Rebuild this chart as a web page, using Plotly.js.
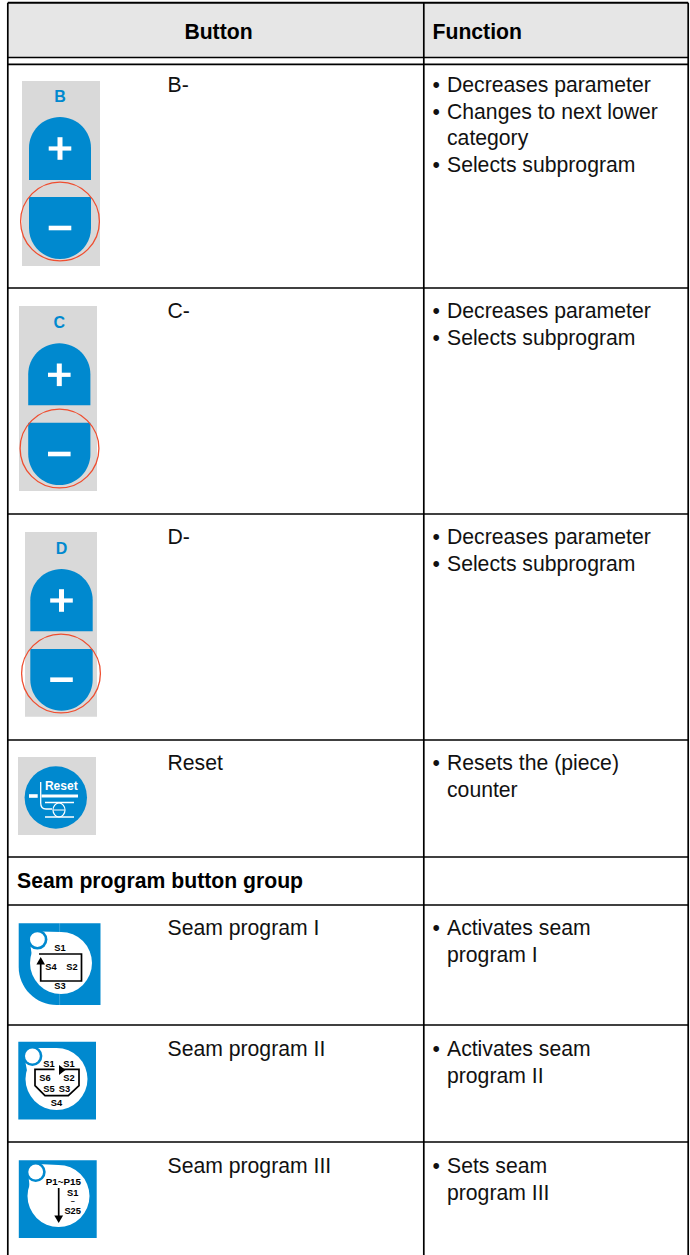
<!DOCTYPE html>
<html><head><meta charset="utf-8">
<script src="https://cdn.plot.ly/plotly-3.0.1.min.js"></script>
<style>html,body{margin:0;padding:0;background:#fff}#g{width:690px;height:1255px}</style>
</head><body><div id="g"></div>
<script>
// ---- table content ----
const headers = ["Button", "Function"];
const buttonNames = ["B-", "C-", "D-", "Reset", "Seam program I", "Seam program II", "Seam program III"];
const groupHeading = "Seam program button group";
const functionLines = [
  [["•","Decreases parameter"],["•","Changes to next lower"],["","category"],["•","Selects subprogram"]],
  [["•","Decreases parameter"],["•","Selects subprogram"]],
  [["•","Decreases parameter"],["•","Selects subprogram"]],
  [["•","Resets the (piece)"],["","counter"]],
  [["•","Activates seam"],["","program I"]],
  [["•","Activates seam"],["","program II"]],
  [["•","Sets seam"],["","program III"]]
];
const plusMinusLetters = ["B", "C", "D"];

// ---- layout measurements (page pixels) ----
const nameRowY = [86.8, 312.8, 538.8, 764.8, 929.8, 1050.8, 1167.8];
const ruleY = [57.5, 64.3, 288, 514, 740, 857, 905, 1025, 1142];
const colX = {left: 7.8, mid: 423.8, right: 688.2, name: 167.5, bullet: 432.5, fn: 447, top: 2.8, bottom: 1255};
const lineStep = 26.7;
const BLUE = "#0089cf", GREY = "#d9d9d9", RED = "#ef4e30", INK = "#000000", HEAD = "#e6e6e6";
const pmIcons = [
  {gx0:22, gx1:100, gy0:81, gy1:266, bx0:29, bx1:91, pt:117, pb:180, mt:197, mb:259, cx:60, cy:221.5, letterY:97},
  {gx0:19, gx1:97, gy0:306, gy1:491, bx0:28.2, bx1:90.4, pt:343.3, pb:405.3, mt:422.7, mb:485, cx:59.5, cy:448.5, letterY:322.5},
  {gx0:25, gx1:97, gy0:532, gy1:716.8, bx0:30.3, bx1:92.7, pt:569, pb:631.3, mt:649, mb:710.7, cx:61, cy:673.5, letterY:548.5}
];

const shapes = [];
const NONE = "rgba(0,0,0,0)";
function rect(x0,y0,x1,y1,fill){shapes.push({type:"rect",layer:"below",x0,y0,x1,y1,fillcolor:fill,line:{width:0}});}
function line(x0,y0,x1,y1,w,col){shapes.push({type:"line",layer:"below",x0,y0,x1,y1,line:{color:col||INK,width:w}});}
function circ(cx,cy,rx,ry,fill,lc,lw){shapes.push({type:"circle",layer:"below",x0:cx-rx,x1:cx+rx,y0:cy-ry,y1:cy+ry,fillcolor:fill||NONE,line:{color:lc||NONE,width:lw||0}});}
function path(d,fill,lc,lw){shapes.push({type:"path",layer:"below",path:d,fillcolor:fill||NONE,line:{color:lc||NONE,width:lw||0}});}

const iconX=[],iconY=[],iconT=[],iconS=[],iconC=[];
function label(x,y,t,s,c){iconX.push(x);iconY.push(y+1);iconT.push(t);iconS.push(s||9.3);iconC.push(c||INK);}

// header band and table rules
rect(colX.left,colX.top,colX.right,ruleY[0],HEAD);
line(colX.left,colX.top,colX.right,colX.top,2);
ruleY.forEach(y=>line(colX.left,y,colX.right,y,1.7));
[colX.left,colX.mid,colX.right].forEach(x=>line(x,colX.top,x,colX.bottom,1.7));

// +/- button icons
pmIcons.forEach((k,i)=>{
  rect(k.gx0,k.gy0,k.gx1,k.gy1,GREY);
  const r=(k.bx1-k.bx0)/2, mx=(k.bx0+k.bx1)/2, q=r*0.5523;
  path(`M${k.bx0},${k.pb} L${k.bx0},${k.pt+r} C${k.bx0},${k.pt+r-q} ${mx-q},${k.pt} ${mx},${k.pt} C${mx+q},${k.pt} ${k.bx1},${k.pt+r-q} ${k.bx1},${k.pt+r} L${k.bx1},${k.pb} Z`,BLUE);
  path(`M${k.bx0},${k.mt} L${k.bx0},${k.mb-r} C${k.bx0},${k.mb-r+q} ${mx-q},${k.mb} ${mx},${k.mb} C${mx+q},${k.mb} ${k.bx1},${k.mb-r+q} ${k.bx1},${k.mb-r} L${k.bx1},${k.mt} Z`,BLUE);
  const py=k.pt+31.5, my=k.mb-31;
  rect(mx-11.3,py-2.1,mx+11.3,py+2.1,"#fff");
  rect(mx-2.5,py-11.3,mx+2.5,py+11.3,"#fff");
  rect(mx-11.3,my-2.3,mx+11.3,my+2.3,"#fff");
  circ(k.cx,k.cy,39.4,39.4,null,RED,1.3);
  label(mx,k.letterY,plusMinusLetters[i],16,BLUE);
});

// reset icon
rect(18,757,96,835,GREY);
circ(55.8,797.5,31.2,31.2,BLUE);
line(41.5,796,78,796,3,"#fff");
line(29,796,37.7,796,3.6,"#fff");
path("M40.7,782 L40.7,803 C40.7,807 42,809 46,809 L52,809",NONE,"#fff",1.3);
line(45,802.5,74,802.5,1.5,"#fff");
line(45,817,74,817,1.5,"#fff");
circ(59,810,6,7,null,"#fff",1.2);
line(53.5,810,64.5,810,1,"#fff");
label(61.3,786,"Reset",12,"#fff");

// teardrop seam program tiles
function tile(x0,y0,x1,y1,rounded,cx,cy,hx,hy){
  if(rounded){ const R=38,Q=R*0.5523; path(`M${x0},${y0} L${x1},${y0} L${x1},${y1} L${x0+R},${y1} C${x0+R-Q},${y1} ${x0},${y1-R+Q} ${x0},${y1-R} Z`,BLUE); }
  else { rect(x0,y0,x1,y1,BLUE); }
  circ(cx,cy,31,31,"#fff");
  path(`M${hx-7},${hy+6} L${hx+2},${hy-8} L${cx},${cy-31} L${cx-28},${cy} Z`,"#fff");
  circ(hx,hy,10,10,BLUE);
  circ(hx,hy,7.4,7.4,"#fff");
}
tile(18.7,923.2,100.5,1005,true,61,963,37.4,939.6);
line(59.6,923.2,59.6,932,0.6,"rgba(255,255,255,0.35)");
line(59.6,994,59.6,1005,0.6,"rgba(255,255,255,0.35)");
path("M39,954 L81.5,954 L81.5,981 L40.7,981 L40.7,963",NONE,INK,1.7);
path("M40.7,957 L45,964.5 L36.4,964.5 Z",INK);
label(60,948,"S1");label(51,967,"S4");label(72,967,"S2");label(60,986,"S3");

tile(18.3,1041.8,96,1119.5,false,56.5,1079,32.4,1056);
path("M54.5,1069.3 L35,1069.3 L35,1085.7 L45,1095.7 L68.3,1095.7 L79,1085.7 L79,1069.3 L62,1069.3",NONE,INK,1.7);
path("M65.5,1070 L59,1065 L59,1075 Z",INK);
label(49,1064,"S1");label(69,1064,"S1");label(45,1077.3,"S6");label(69,1077.3,"S2");
label(49,1089,"S5");label(64.5,1089,"S3");label(56.5,1102.3,"S4");

tile(18.8,1160.3,96.7,1238,false,58.5,1196,35.7,1172);
line(58.7,1188,58.7,1217,1.7,INK);
path("M58.7,1223 L54.3,1215.5 L63.1,1215.5 Z",INK);
label(63.3,1181.5,"P1~P15",9.8);label(72.7,1192.5,"S1");label(72.7,1201.5,"~",7);label(72.7,1210.8,"S25");

// text columns
const nameX=[],nameYs=[],fnX=[],fnY=[],fnT=[];
buttonNames.forEach((n,i)=>{
  nameX.push(colX.name);nameYs.push(nameRowY[i]);
  functionLines[i].forEach((pair,j)=>{
    const y=nameRowY[i]+j*lineStep;
    if(pair[0]){fnX.push(colX.bullet);fnY.push(y);fnT.push(pair[0]);}
    fnX.push(colX.fn);fnY.push(y);fnT.push(pair[1]);
  });
});
const FONT="Liberation Sans, Arial, sans-serif";
const traces=[
 {type:"scatter",mode:"text",x:nameX,y:nameYs,text:buttonNames,textposition:"middle right",textfont:{family:FONT,size:21.2,color:"#111"},hoverinfo:"skip"},
 {type:"scatter",mode:"text",x:fnX,y:fnY,text:fnT,textposition:"middle right",textfont:{family:FONT,size:21.2,color:"#111"},hoverinfo:"skip"},
 {type:"scatter",mode:"text",x:[218.5],y:[33.8],text:[headers[0]],textposition:"middle center",textfont:{family:FONT,size:21.2,color:"#000",weight:700},hoverinfo:"skip"},
 {type:"scatter",mode:"text",x:[432.5,17],y:[33.8,882.8],text:[headers[1],groupHeading],textposition:"middle right",textfont:{family:FONT,size:21.2,color:"#000",weight:700},hoverinfo:"skip"},
 {type:"scatter",mode:"text",x:iconX,y:iconY,text:iconT,textposition:"middle center",textfont:{family:FONT,size:iconS,color:iconC,weight:700},hoverinfo:"skip"}
];

Plotly.newPlot("g",traces,{
  width:690,height:1255,margin:{l:0,r:0,t:0,b:0},showlegend:false,
  paper_bgcolor:"#fff",plot_bgcolor:"#fff",
  xaxis:{range:[0,690],visible:false,fixedrange:true},
  yaxis:{range:[1255,0],visible:false,fixedrange:true},
  shapes
},{displayModeBar:false,staticPlot:true});
</script></body></html>
